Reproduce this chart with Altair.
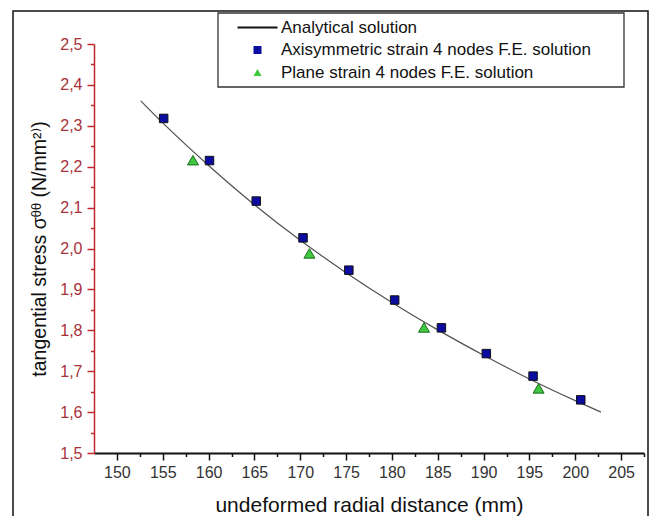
import altair as alt
import pandas as pd

S1 = "Analytical  solution"
S2 = "Axisymmetric strain 4 nodes F.E. solution"
S3 = "Plane strain 4 nodes  F.E. solution"
series_names = [S1, S2, S3]

# Analytical curve
curve_r = [152.6, 155, 160, 165, 170, 175, 180, 185, 190, 195, 200, 202.8]
curve_s = [2.361, 2.307, 2.203, 2.107, 2.020, 1.941, 1.868, 1.801, 1.739, 1.681, 1.628, 1.600]

# Axisymmetric strain 4-node F.E. solution
axi_r = [155.1, 160.1, 165.2, 170.3, 175.3, 180.3, 185.4, 190.3, 195.4, 200.6]
axi_s = [2.318, 2.215, 2.116, 2.026, 1.947, 1.874, 1.806, 1.743, 1.688, 1.630]

# Plane strain 4-node F.E. solution
plane_r = [158.3, 171.0, 183.5, 196.0]
plane_s = [2.216, 1.988, 1.807, 1.658]

x_major = [150, 155, 160, 165, 170, 175, 180, 185, 190, 195, 200, 205]
x_minor = [152.5, 157.5, 162.5, 167.5, 172.5, 177.5, 182.5, 187.5, 192.5, 197.5, 202.5, 207.5]
y_major = [1.5, 1.6, 1.7, 1.8, 1.9, 2.0, 2.1, 2.2, 2.3, 2.4, 2.5]
y_minor = [1.55, 1.65, 1.75, 1.85, 1.95, 2.05, 2.15, 2.25, 2.35, 2.45]

df_curve = pd.DataFrame({"r": curve_r, "s": curve_s, "series": S1})
df_axi = pd.DataFrame({"r": axi_r, "s": axi_s, "series": S2})
df_plane = pd.DataFrame({"r": plane_r, "s": plane_s, "series": S3})

FONT = "Liberation Sans, Arial, DejaVu Sans, Noto Sans"
RED = "#c0282d"

xscale = alt.Scale(domain=[147.5, 207.5], nice=False, zero=False)
yscale = alt.Scale(domain=[1.5, 2.5], nice=False, zero=False)

x_main_axis = alt.Axis(
    orient="bottom",
    values=x_major, tickSize=7, tickWidth=1.5, tickColor="#111",
    domainColor="#111", domainWidth=2, labelColor="#333", labelFont=FONT,
    labelFontSize=16, labelPadding=4, grid=False,
    title="undeformed radial distance (mm)", titleFont=FONT, titleFontSize=21,
    titleFontWeight="normal", titleColor="#111", titlePadding=14,
)
y_main_axis = alt.Axis(
    orient="left",
    values=y_major, tickSize=7, tickWidth=1.5, tickColor=RED,
    domainColor=RED, domainWidth=1.5, labelColor="#a8323a", labelFont=FONT,
    labelFontSize=16, labelPadding=5, grid=False,
    labelExpr="replace(format(datum.value, '.1f'), '.', ',')",
    title="tangential stress σᶿᶿ (N/mm²⁾)", titleFont=FONT, titleFontSize=19.5,
    titleFontWeight="normal", titleColor="#111", titlePadding=10,
)
x_minor_axis = alt.Axis(orient="bottom", values=x_minor, tickSize=3.5, tickWidth=1.5, tickColor="#111",
                        labels=False, domain=False, grid=False, title=None)
y_minor_axis = alt.Axis(orient="left", values=y_minor, tickSize=3.5, tickWidth=1.5, tickColor=RED,
                        labels=False, domain=False, grid=False, title=None)

leg = alt.Legend(
    title=None, orient="none", legendX=128, legendY=-33,
    padding=8,
    labelFont=FONT, labelFontSize=17, labelColor="#111",
    labelLimit=0,
    symbolSize=64, symbolOffset=19, labelOffset=15, rowPadding=4.5,
    symbolStrokeColor="#111", symbolStrokeWidth=1, symbolOpacity=1,
)

color_scale = alt.Scale(domain=series_names, range=["#111111", "#0c0ca0", "#3ec83e"])
shape_scale = alt.Scale(domain=series_names,
                        range=["M-5,-0.22H5V0.22H-5Z", "square", "triangle-up"])

curve = alt.Chart(df_curve).mark_line(color="#505050", strokeWidth=1.2, interpolate="monotone").encode(
    x=alt.X("r:Q", scale=xscale, axis=x_main_axis),
    y=alt.Y("s:Q", scale=yscale, axis=y_main_axis),
)

minor = alt.Chart(df_curve).mark_line(opacity=0).encode(
    x=alt.X("r:Q", scale=xscale, axis=x_minor_axis),
    y=alt.Y("s:Q", scale=yscale, axis=y_minor_axis),
)

squares = alt.Chart(df_axi).mark_point(filled=True, size=72, stroke="#111", strokeWidth=1, opacity=1).encode(
    x=alt.X("r:Q", scale=xscale, axis=None),
    y=alt.Y("s:Q", scale=yscale, axis=None),
    color=alt.Color("series:N", scale=color_scale, legend=leg),
    shape=alt.Shape("series:N", scale=shape_scale, legend=leg),
)

triangles = alt.Chart(df_plane).mark_point(filled=True, size=121, stroke="#1f6b1f", strokeWidth=1, opacity=1).encode(
    x=alt.X("r:Q", scale=xscale, axis=None),
    y=alt.Y("s:Q", scale=yscale, axis=None),
    color=alt.Color("series:N", scale=color_scale, legend=leg),
    shape=alt.Shape("series:N", scale=shape_scale, legend=leg),
)

one = pd.DataFrame({"a": [0]})
frame = alt.Chart(one).mark_rect(filled=False, stroke="#111", strokeWidth=1.5).encode(
    x=alt.value(-81), x2=alt.value(554), y=alt.value(-33), y2=alt.value(480),
)
legend_box = alt.Chart(one).mark_rect(filled=False, stroke="#333", strokeWidth=1.3).encode(
    x=alt.value(124), x2=alt.value(530), y=alt.value(-31), y2=alt.value(43),
)

chart = alt.layer(frame, minor, curve, squares, triangles, legend_box).resolve_axis(
    x="independent", y="independent"
).properties(
    width=550, height=409,
    autosize=alt.AutoSizeParams(type="none"),
    padding={"left": 94, "top": 44, "right": 16, "bottom": 63},
    background="white",
).configure_view(stroke=None)

chart.save("out.html", embed_options={"renderer": "svg", "actions": False})
